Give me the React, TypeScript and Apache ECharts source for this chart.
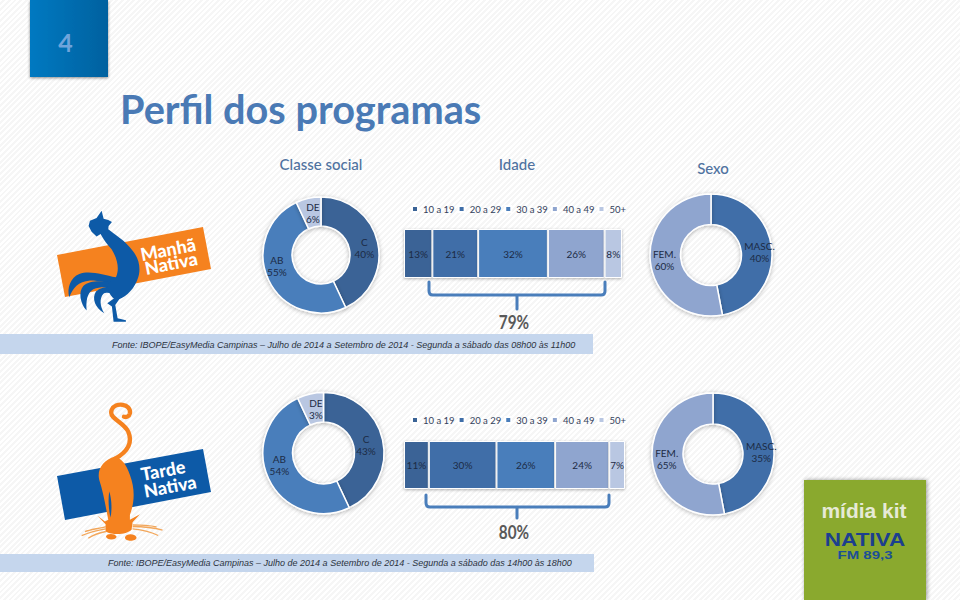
import React, { useEffect, useRef } from "react";
import * as echarts from "echarts";

// Slices as drawn in the picture, and the percentages printed on them.
const socialNames = ["C", "AB", "DE"];
const socialDrawn = [43, 50, 7];
const socialPrintedTop = [40, 55, 6];
const socialPrintedBottom = [43, 54, 3];
const sexNames = ["MASC.", "FEM."];
const sexDrawn = [47, 53];
const sexPrintedTop = [40, 60];
const sexPrintedBottom = [35, 65];
const ageNames = ["10 a 19", "20 a 29", "30 a 39", "40 a 49", "50+"];
const ageTop = [13, 21, 32, 26, 8];
const ageBottom = [11, 30, 26, 24, 7];

const SANS = "Lato";
const BLUE_1 = "#3a6396";
const BLUE_2 = "#3f6ea8";
const BLUE_3 = "#4a7ebb";
const BLUE_4 = "#8fa5cf";
const BLUE_5 = "#b9c7e2";
const ORANGE = "#f5821f";
const ROYAL = "#0d5aa7";

const ROOSTER =
  "M185 62 L191 86 L205 90 L216 96 L206 108 L205 118 C225 135 255 150 280 185 C300 210 302 240 295 262 C285 295 262 318 238 328 L226 345 L233 385 L258 391 L258 396 L221 396 L216 350 L202 340 L222 326 C212 318 200 300 205 280 L228 262 C238 240 235 210 215 178 C200 160 190 148 182 132 L170 140 L155 125 L146 108 L150 92 L170 84 Z";
const ROOSTER_TAIL_1 =
  "M228 262 C190 255 150 240 118 252 C92 262 80 295 88 322 C98 295 115 275 150 272 C180 272 205 280 228 282 Z";
const ROOSTER_TAIL_2 =
  "M225 280 C190 272 150 270 130 288 C115 305 120 340 140 362 C138 335 140 310 160 298 C180 290 205 292 225 295 Z";
const ROOSTER_TAIL_3 =
  "M230 290 C205 288 180 292 168 305 C155 325 165 355 193 370 C180 350 178 325 190 312 C200 305 215 310 225 315 Z";
const CAT_BODY =
  "M225 215 C190 225 170 255 178 285 C190 320 198 370 205 405 L195 410 L172 392 L197 418 L197 440 C220 452 260 450 275 435 L278 412 L300 388 L270 405 L270 390 C285 350 285 310 270 270 C260 240 245 220 225 215 Z";
const CAT_SLIT = "M208 320 C216 345 216 375 212 398 C206 375 204 345 208 320 Z";
const CAT_TAIL =
  "M225 222 C255 205 282 180 265 140 C250 110 205 100 215 75 C225 50 275 55 270 85 C268 95 258 98 252 95";
const CAT_WHISKERS =
  "M198 432 C175 436 150 442 125 452 M198 440 C178 444 160 450 145 460 M198 425 C180 430 150 435 135 440 M278 425 C305 425 340 428 368 436 M278 432 C305 435 335 442 355 452 M278 420 C305 420 330 422 350 426";
const CAT_PAWS =
  "M198 455 C200 445 225 445 230 455 C230 467 200 467 198 455 Z M255 458 C258 445 285 445 290 458 C290 470 256 472 255 458 Z";
const BRACKET_TOP =
  "M429 282 L429 291 Q429 295 433 295 L601 295 Q605 295 605 291 L605 282 M517 295 L517 309";
const BRACKET_BOTTOM =
  "M426 495 L426 503 Q426 507 430 507 L605 507 Q609 507 609 503 L609 495 M517 507 L517 518";

const SHAPES: Record<string, string> = {
  rooster: ROOSTER,
  roosterTail1: ROOSTER_TAIL_1,
  roosterTail2: ROOSTER_TAIL_2,
  roosterTail3: ROOSTER_TAIL_3,
  catBody: CAT_BODY,
  catSlit: CAT_SLIT,
  catTail: CAT_TAIL,
  catWhiskers: CAT_WHISKERS,
  catPaws: CAT_PAWS,
  bracketTop: BRACKET_TOP,
  bracketBottom: BRACKET_BOTTOM,
};
Object.keys(SHAPES).forEach((k) => echarts.graphic.registerShape(k, echarts.graphic.extendPath(SHAPES[k], {})));

function donut(
  names: string[],
  drawn: number[],
  printed: number[],
  colors: string[],
  center: number[],
  radius: number[],
  offsets: number[][]
) {
  return {
    type: "pie",
    center,
    radius,
    startAngle: 90,
    clockwise: true,
    silent: true,
    z: 3,
    labelLine: { show: false },
    data: names.map((name, i) => ({
      name: name + " ",
      value: drawn[i],
      itemStyle: { color: colors[i] },
      label: { formatter: name + "\n" + printed[i] + "%" },
    })),
    itemStyle: {
      borderColor: "#fff",
      borderWidth: 1.5,
      shadowBlur: 4,
      shadowColor: "rgba(0,0,0,0.28)",
      shadowOffsetY: 1,
    },
    label: {
      show: true,
      position: "inside",
      color: "#1c2b45",
      fontFamily: SANS,
      fontSize: 10,
      lineHeight: 12,
    },
    labelLayout: (p: any) => ({ dx: offsets[p.dataIndex][0], dy: offsets[p.dataIndex][1] }),
  };
}

function bars(values: number[], gridIndex: number) {
  const colors = [BLUE_1, BLUE_2, BLUE_3, BLUE_4, BLUE_5];
  return ageNames.map((name, i) => ({
    type: "bar",
    name,
    stack: "age" + gridIndex,
    xAxisIndex: gridIndex,
    yAxisIndex: gridIndex,
    barWidth: "100%",
    silent: true,
    itemStyle: {
      color: colors[i],
      borderColor: "#fff",
      borderWidth: 1,
      shadowBlur: 3,
      shadowColor: "rgba(0,0,0,0.3)",
      shadowOffsetY: 1,
    },
    label: {
      show: true,
      position: "inside",
      formatter: "{c}%",
      color: "#1c2b45",
      fontFamily: SANS,
      fontSize: 10,
    },
    data: [values[i]],
  }));
}

function hiddenAxes(values: number[], count: number) {
  const sum = values.reduce((a, b) => a + b, 0);
  return {
    x: { type: "value", gridIndex: count, min: 0, max: sum, show: false },
    y: { type: "category", gridIndex: count, data: ["Idade"], show: false },
  };
}

const legendBase = {
  data: ageNames,
  icon: "rect",
  itemWidth: 6,
  itemHeight: 6,
  itemGap: 3,
  selectedMode: false,
  textStyle: { color: "#33415c", fontFamily: SANS, fontSize: 9.5 },
};

function centered(text: string, x: number, y: number, font: string, fill: string, scaleX = 1) {
  return { type: "text", x, y, scaleX, silent: true, style: { text, font, fill, textAlign: "center", textVerticalAlign: "middle" } };
}

function tilted(text: string, x: number, y: number, rotationDeg: number, font: string) {
  return {
    type: "text",
    x,
    y,
    rotation: (rotationDeg * Math.PI) / 180,
    silent: true,
    style: { text, font, fill: "#fff", textAlign: "center", textVerticalAlign: "middle" },
  };
}

function footer(text: string, x: number, y: number) {
  return {
    type: "text",
    x,
    y,
    silent: true,
    style: { text, font: `italic 9px "Liberation Sans"`, fill: "#2c3340", textVerticalAlign: "middle" },
  };
}

export default function App() {
  const ref = useRef<HTMLDivElement>(null);
  useEffect(() => {
    const chart = echarts.init(ref.current!, undefined, { renderer: "svg" });
    const topAxes = hiddenAxes(ageTop, 0);
    const bottomAxes = hiddenAxes(ageBottom, 1);
    const zoomTop = { x: 40, y: 190, scaleX: 1 / 3, scaleY: 1 / 3 };
    const zoomBottom = { x: 40, y: 385, scaleX: 1 / 3, scaleY: 1 / 3 };
    chart.setOption({
      animation: false,
      backgroundColor: "transparent",
      grid: [
        { left: 404, top: 229, width: 218, height: 49 },
        { left: 404, top: 441, width: 221, height: 48 },
      ],
      xAxis: [topAxes.x, bottomAxes.x],
      yAxis: [topAxes.y, bottomAxes.y],
      legend: [
        { ...legendBase, left: 406, top: 199 },
        { ...legendBase, left: 406, top: 410 },
      ],
      series: [
        donut(socialNames, socialDrawn, socialPrintedTop, [BLUE_1, BLUE_3, BLUE_5], [321, 255], [29, 58], [[-2, 3], [-2, -9], [2, 3]]),
        donut(socialNames, socialDrawn, socialPrintedBottom, [BLUE_1, BLUE_3, BLUE_5], [323.5, 453], [31, 60.5], [[-5, 3], [0, -9], [3, 4]]),
        donut(sexNames, sexDrawn, sexPrintedTop, [BLUE_2, BLUE_4], [711, 255], [30.5, 61], [[0, 2], [2, 0]]),
        donut(sexNames, sexDrawn, sexPrintedBottom, [BLUE_2, BLUE_4], [713, 454], [30, 61], [[0, 3], [2, 0]]),
        ...bars(ageTop, 0),
        ...bars(ageBottom, 1),
      ],
      graphic: [
        {
          type: "rect",
          silent: true,
          shape: { x: 30, y: 0, width: 78, height: 77 },
          style: {
            fill: new echarts.graphic.LinearGradient(0, 0, 1, 0, [
              { offset: 0, color: "#0079c1" },
              { offset: 1, color: "#04619f" },
            ]),
            shadowBlur: 3,
            shadowColor: "rgba(0,0,0,0.45)",
            shadowOffsetY: 1,
          },
        },
        centered("4", 65.5, 42, `bold 25px ${SANS}`, "#6fa4db"),
        { type: "text", x: 120, y: 108, silent: true, style: { text: "Perfil dos programas", font: `bold 39.7px ${SANS}`, fill: "#4a7ab5", textVerticalAlign: "middle" } },
        centered("Classe social", 321, 164, `500 15px ${SANS}`, "#4f72a0"),
        centered("Idade", 517, 164, `500 15px ${SANS}`, "#4f72a0"),
        centered("Sexo", 713, 168, `500 15px ${SANS}`, "#4f72a0"),
        { type: "rect", silent: true, shape: { x: 0, y: 334, width: 593, height: 20 }, style: { fill: "#c5d6ed" } },
        { type: "rect", silent: true, shape: { x: 0, y: 554, width: 594, height: 18 }, style: { fill: "#c5d6ed" } },
        footer("Fonte: IBOPE/EasyMedia Campinas – Julho de 2014 a Setembro de 2014 - Segunda a sábado das 08h00 às 11h00", 112, 345),
        footer("Fonte: IBOPE/EasyMedia Campinas – Julho de 2014 a Setembro de 2014 - Segunda a sábado das 14h00 às 18h00", 108, 563),
        { type: "bracketTop", silent: true, style: { fill: "none", stroke: BLUE_3, lineWidth: 3, lineCap: "round" } },
        { type: "bracketBottom", silent: true, style: { fill: "none", stroke: BLUE_3, lineWidth: 3, lineCap: "round" } },
        centered("79%", 514, 323, `bold 18px ${SANS}`, "#595959", 0.85),
        centered("80%", 514, 533, `bold 18px ${SANS}`, "#595959", 0.85),

        { type: "polygon", silent: true, shape: { points: [[57, 255], [203, 227], [211, 269], [65, 297]] }, style: { fill: ORANGE } },
        { type: "roosterTail1", silent: true, ...zoomTop, style: { fill: ROYAL } },
        { type: "roosterTail2", silent: true, ...zoomTop, style: { fill: ROYAL } },
        { type: "roosterTail3", silent: true, ...zoomTop, style: { fill: ROYAL } },
        { type: "rooster", silent: true, ...zoomTop, style: { fill: ROYAL } },
        tilted("Manhã", 168, 249, 11, `900 18px ${SANS}`),
        tilted("Nativa", 171, 263, 11, `900 18px ${SANS}`),

        { type: "polygon", silent: true, shape: { points: [[57, 476], [203, 449], [211, 492], [65, 520]] }, style: { fill: ROYAL } },
        { type: "catTail", silent: true, ...zoomBottom, style: { fill: "none", stroke: ORANGE, lineWidth: 13, lineCap: "round" } },
        { type: "catBody", silent: true, ...zoomBottom, style: { fill: ORANGE } },
        { type: "catSlit", silent: true, ...zoomBottom, style: { fill: ROYAL } },
        { type: "catWhiskers", silent: true, ...zoomBottom, style: { fill: "none", stroke: "#f2a65a", lineWidth: 4 } },
        { type: "catPaws", silent: true, ...zoomBottom, style: { fill: ORANGE } },
        tilted("Tarde", 163, 470, 10.5, `900 18px ${SANS}`),
        tilted("Nativa", 170, 486, 10.5, `900 18px ${SANS}`),

        {
          type: "rect",
          silent: true,
          shape: { x: 804, y: 480, width: 122, height: 120 },
          style: { fill: "#8aa92e", shadowBlur: 4, shadowColor: "rgba(0,0,0,0.4)", shadowOffsetX: 1 },
        },
        centered("mídia kit", 864, 510, `bold 21px "Liberation Sans"`, "#e6ead6"),
        centered("NATIVA", 865, 540, `bold 18px "Liberation Sans"`, "#1c3f8e", 1.25),
        centered("FM 89,3", 865, 555.5, `bold 10px "Liberation Sans"`, "#1c4f96", 1.5),
      ],
    });
    return () => chart.dispose();
  }, []);
  return (
    <div
      ref={ref}
      style={{
        position: "absolute",
        left: 0,
        top: 0,
        width: 960,
        height: 600,
        background: "repeating-linear-gradient(135deg, #ffffff 0 2px, #f6f6f6 2px 4px)",
      }}
    />
  );
}
